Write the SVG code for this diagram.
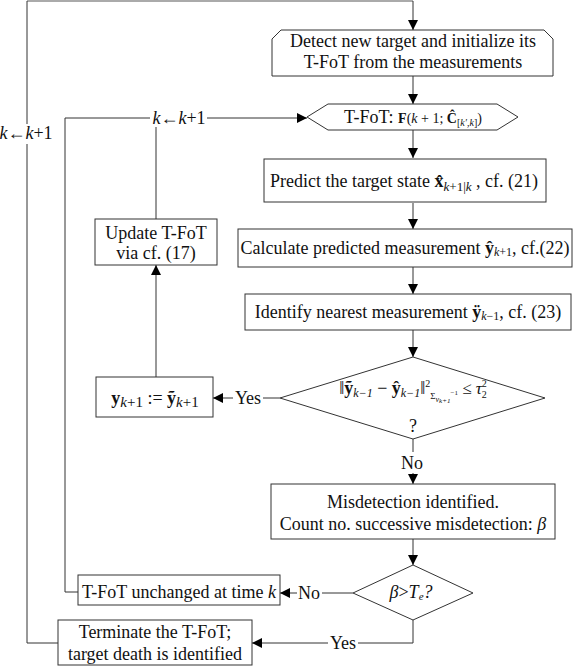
<svg xmlns="http://www.w3.org/2000/svg" width="588" height="666" viewBox="0 0 588 666" font-family="'Liberation Serif', 'DejaVu Serif', serif">
<defs>
<marker id="ah" viewBox="0 0 10 10" refX="10" refY="5" markerWidth="10" markerHeight="10" markerUnits="userSpaceOnUse" orient="auto">
<path d="M0,0 L10,5 L0,10 z" fill="#000"/>
</marker>
<style>
.n{fill:#fff;stroke:#333;stroke-width:1}
.c{fill:none;stroke:#333;stroke-width:1}
.a{fill:none;stroke:#333;stroke-width:1;marker-end:url(#ah)}
text{font-family:'Liberation Serif', 'DejaVu Serif', serif;font-size:18px;fill:#111}
.m{text-anchor:middle}
.i{font-style:italic}
.b{font-weight:bold}
</style>
</defs>
<rect width="588" height="666" fill="#fff"/>
<g id="connectors">
<line x1="27" y1="1" x2="413" y2="1" stroke="#aaa" stroke-width="2"/>
<line class="a" x1="413" y1="1" x2="413" y2="30"/>
<line class="a" x1="413" y1="76" x2="413" y2="104"/>
<line class="a" x1="413" y1="130" x2="413" y2="158"/>
<line class="a" x1="413" y1="203" x2="413" y2="229"/>
<line class="a" x1="413" y1="267" x2="413" y2="294"/>
<line class="a" x1="413" y1="330" x2="413" y2="357"/>
<line class="c" x1="280" y1="398" x2="263" y2="398"/>
<line class="a" x1="233" y1="398" x2="213" y2="398"/>
<line class="a" x1="156" y1="377" x2="156" y2="265"/>
<line class="c" x1="156" y1="219" x2="156" y2="127"/>
<polyline class="c" points="78,592 65,592 65,118 150,118"/>
<line class="a" x1="207" y1="118" x2="307" y2="118"/>
<line class="c" x1="413" y1="439" x2="413" y2="452"/>
<line class="a" x1="413" y1="473" x2="413" y2="484"/>
<line class="a" x1="413" y1="539" x2="413" y2="565"/>
<line class="c" x1="353" y1="593" x2="322" y2="593"/>
<line class="a" x1="297" y1="593" x2="280" y2="593"/>
<polyline class="c" points="413,620 413,643 358,643"/>
<line class="a" x1="328" y1="643" x2="252" y2="643"/>
<polyline class="c" points="58,643 27,643 27,144"/>
<line class="c" x1="27" y1="124" x2="27" y2="1"/>
<text x="26" y="139" class="m" font-size="17"><tspan class="i">k</tspan>←<tspan class="i">k</tspan>+1</text>
<text x="179" y="124" class="m" font-size="17"><tspan class="i">k</tspan>←<tspan class="i">k</tspan>+1</text>
<text x="248" y="404" class="m">Yes</text>
<text x="412" y="469" class="m">No</text>
<text x="309" y="599" class="m">No</text>
<text x="343" y="649" class="m">Yes</text>
</g>
<g id="detect">
<path class="n" d="M272,39 L281,30 L544,30 L553,39 L553,76 L272,76 Z"/>
<text x="413" y="47" class="m">Detect new target and initialize its</text>
<text x="413" y="68" class="m">T-FoT from the measurements</text>
</g>
<g id="tfot">
<path class="n" d="M307,117 L328,104 L497,104 L518,117 L497,130 L328,130 Z"/>
<text x="413" y="123" class="m">T-FoT: <tspan font-size="14" class="b">F</tspan><tspan font-size="14">(<tspan class="i">k</tspan> + 1; <tspan class="b">Ĉ</tspan></tspan><tspan font-size="10" dy="3">[<tspan class="i">k′</tspan>,<tspan class="i">k</tspan>]</tspan><tspan font-size="14" dy="-3">)</tspan></text>
</g>
<g id="predict">
<rect class="n" x="264" y="159" width="282" height="43"/>
<text x="404" y="187" class="m">Predict the target state <tspan class="b">x̂</tspan><tspan font-size="13" dy="4"><tspan class="i">k</tspan>+1|<tspan class="i">k</tspan></tspan><tspan dy="-4"> , cf. (21)</tspan></text>
</g>
<g id="calculate">
<rect class="n" x="238" y="229" width="334" height="38"/>
<text x="405" y="254" class="m">Calculate predicted measurement <tspan class="b">ŷ</tspan><tspan font-size="12" dy="2"><tspan class="i">k</tspan>+1</tspan><tspan dy="-2">, cf.(22)</tspan></text>
</g>
<g id="identify">
<rect class="n" x="245" y="294" width="326" height="36"/>
<text x="408" y="318" class="m">Identify nearest measurement <tspan class="b">ÿ</tspan><tspan font-size="12" dy="2"><tspan class="i">k</tspan>−1</tspan><tspan dy="-2">, cf. (23)</tspan></text>
</g>
<g id="check">
<path class="n" d="M413,357 L545,398 L413,439 L280,398 Z"/>
<text x="413" y="394" class="m" font-size="17">‖<tspan class="b">ỹ</tspan><tspan font-size="12" dy="3" class="i">k−1</tspan><tspan dy="-3"> − </tspan><tspan class="b">ŷ</tspan><tspan font-size="12" dy="3" class="i">k−1</tspan><tspan dy="-3">‖</tspan><tspan font-size="10" dy="-7">2</tspan><tspan font-size="9" dy="12">Σ</tspan><tspan font-size="8" dy="3" class="i">v</tspan><tspan font-size="7" dy="1" class="i">k+1</tspan><tspan font-size="7" dy="-8">−1</tspan><tspan font-size="17" dy="-1"> ≤ </tspan><tspan font-size="17" class="i">τ</tspan><tspan font-size="10" dy="-7">2</tspan><tspan font-size="10" dx="-5" dy="11">2</tspan></text>
<text x="413" y="432" class="m" font-size="16">?</text>
</g>
<g id="assign">
<rect class="n" x="96" y="377" width="117" height="40"/>
<text x="155" y="404" class="m" font-size="21"><tspan class="b">y</tspan><tspan font-size="15" dy="3"><tspan class="i">k</tspan>+1</tspan><tspan dy="-3"> := </tspan><tspan class="b">ỹ</tspan><tspan font-size="15" dy="3"><tspan class="i">k</tspan>+1</tspan></text>
</g>
<g id="update">
<rect class="n" x="95" y="219" width="122" height="46"/>
<text x="156" y="239" class="m">Update T-FoT</text>
<text x="156" y="259" class="m">via cf. (17)</text>
</g>
<g id="misdetect">
<rect class="n" x="271" y="484" width="284" height="55"/>
<text x="413" y="508" class="m">Misdetection identified.</text>
<text x="413" y="530" class="m">Count no. successive misdetection: <tspan class="i">β</tspan></text>
</g>
<g id="threshold">
<path class="n" d="M413,565 L473,593 L413,620 L353,593 Z"/>
<text x="411" y="598" class="m" font-size="17"><tspan class="i">β</tspan>&gt;<tspan class="i">T</tspan><tspan font-size="11" dy="2" class="i">e</tspan><tspan dy="-2" class="i">?</tspan></text>
</g>
<g id="unchanged">
<rect class="n" x="78" y="575" width="202" height="30"/>
<text x="179" y="598" class="m">T-FoT unchanged at time <tspan class="i">k</tspan></text>
</g>
<g id="terminate">
<rect class="n" x="58" y="620" width="194" height="45"/>
<text x="155" y="638" class="m">Terminate the T-FoT;</text>
<text x="155" y="660" class="m">target death is identified</text>
</g>
</svg>
